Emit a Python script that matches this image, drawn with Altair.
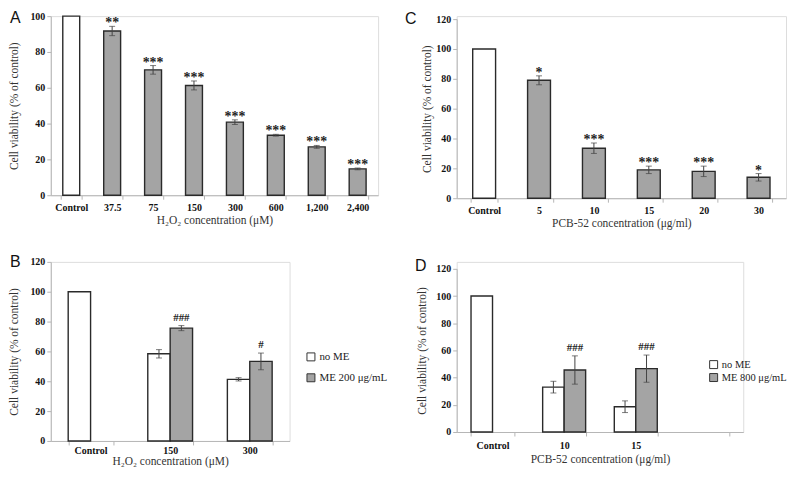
import altair as alt
import pandas as pd

SERIF = "Liberation Serif"
SANS = "Liberation Sans"
GRAY = "#a4a4a4"
WHITE = "#ffffff"

# ---------------- data ----------------
panel_letters = ["A", "B", "C", "D"]
y_title = "Cell viability (% of control)"

# Panel A
a_cats = ["Control", "37.5", "75", "150", "300", "600", "1,200", "2,400"]
a_vals = [100, 91.7, 70.0, 61.3, 40.8, 33.5, 27.0, 14.7]
a_errs = [0, 2.6, 2.4, 2.5, 1.3, 0.5, 0.8, 0.5]
a_sig = ["", "**", "***", "***", "***", "***", "***", "***"]
a_xtitle = "H₂O₂ concentration (μM)"

# Panel C
c_cats = ["Control", "5", "10", "15", "20", "30"]
c_vals = [100, 79.0, 33.5, 19.0, 18.0, 14.0]
c_errs = [0, 3.0, 3.5, 2.5, 3.5, 2.5]
c_sig = ["", "*", "***", "***", "***", "*"]
c_xtitle = "PCB-52 concentration (μg/ml)"

# Panel B
b_cats = ["Control", "150", "300"]
b_groups = ["no ME", "ME 200 μg/mL"]
b_noME = [100, 58.4, 41.3]
b_noME_err = [0, 2.8, 1.1]
b_ME = [75.6, 53.3]
b_ME_err = [1.7, 5.6]
b_sig = ["###", "#"]
b_xtitle = "H₂O₂ concentration (μM)"

# Panel D
d_cats = ["Control", "10", "15", " "]
d_groups = ["no ME", "ME 800 μg/mL"]
d_noME = [100, 33.0, 18.6]
d_noME_err = [0, 4.3, 4.3]
d_ME = [45.6, 46.6]
d_ME_err = [10.4, 10.0]
d_sig = ["###", "###"]
d_xtitle = "PCB-52 concentration (μg/ml)"


def y_axis(title_pad):
    return alt.Axis(title=y_title, grid=False, values=[0, 20, 40, 60, 80, 100, 120],
                    labelFont=SERIF, labelFontWeight="bold", labelFontSize=10, labelColor="#111",
                    titleFont=SERIF, titleFontWeight="normal", titleFontSize=11.5, titleColor="#333",
                    titlePadding=title_pad, domainColor="#b5b5b5", tickColor="#b5b5b5",
                    tickSize=4, labelPadding=2)


def x_axis(title, title_pad, label_pad):
    return alt.Axis(title=title, labelAngle=0, tickBand="extent", grid=False,
                    labelFont=SERIF, labelFontWeight="bold", labelFontSize=10, labelColor="#111",
                    titleFont=SERIF, titleFontWeight="normal", titleFontSize=11.5, titleColor="#333",
                    titlePadding=title_pad, labelPadding=label_pad,
                    domainColor="#b5b5b5", tickColor="#b5b5b5", tickSize=4)


def letter_layer(letter, lx, ly):
    df = pd.DataFrame({"t": [letter]})
    return alt.Chart(df).mark_text(font=SANS, fontSize=16, align="left", baseline="middle",
                                   color="#111").encode(text="t:N", x=alt.value(lx), y=alt.value(ly))


def simple_panel(cats, vals, errs, sig, letter, xtitle, ymax, width, height, rng, bar_w,
                 lx, ly, ytp, xtp, xlp):
    df = pd.DataFrame({"cat": cats, "val": vals, "err": errs, "sig": sig})
    df["lo"] = df["val"] - df["err"]
    df["hi"] = df["val"] + df["err"]
    df["fill"] = [WHITE] + [GRAY] * (len(cats) - 1)
    xs = alt.Scale(domain=cats, paddingInner=0.5, paddingOuter=0.25)
    ys = alt.Scale(domain=[0, ymax], range=rng, nice=False)
    X = alt.X("cat:N", sort=cats, scale=xs, axis=x_axis(xtitle, xtp, xlp))
    ya = y_axis(ytp)
    base = alt.Chart(df)
    bars = base.mark_bar(width=bar_w, stroke="#2a2a2a", strokeWidth=1.4).encode(
        x=X, y=alt.Y("val:Q", scale=ys, axis=ya), fill=alt.Fill("fill:N", scale=None))
    eb = base.transform_filter("datum.err > 0")
    rule = eb.mark_rule(color="#444", strokeWidth=1).encode(
        x=X, y=alt.Y("lo:Q", scale=ys, axis=ya), y2="hi:Q")
    cap_lo = eb.mark_tick(color="#444", size=6, thickness=1).encode(
        x=X, y=alt.Y("lo:Q", scale=ys, axis=ya))
    cap_hi = eb.mark_tick(color="#444", size=6, thickness=1).encode(
        x=X, y=alt.Y("hi:Q", scale=ys, axis=ya))
    stars = base.transform_filter("datum.sig != ''").mark_text(
        font=SERIF, fontWeight="bold", fontSize=14, dy=-3,
        baseline="middle", color="#222").encode(
        x=X, y=alt.Y("hi:Q", scale=ys, axis=ya), text="sig:N")
    return alt.layer(bars, rule, cap_lo, cap_hi, stars, letter_layer(letter, lx, ly)).properties(
        width=width, height=height)


def grouped_panel(cats, groups, no_vals, no_errs, me_vals, me_errs, sig, letter, xtitle,
                  width, height, rng, pin, lx, ly, ytp, xtp, xlp, legx, legy, rowpad, legfs):
    rows = []
    for c, v, e in zip(cats, no_vals, no_errs):
        rows.append({"cat": c, "grp": groups[0], "val": v, "err": e, "sig": ""})
    for c, v, e, s in zip(cats[1:], me_vals, me_errs, sig):
        rows.append({"cat": c, "grp": groups[1], "val": v, "err": e, "sig": s})
    df = pd.DataFrame(rows)
    df["lo"] = df["val"] - df["err"]
    df["hi"] = df["val"] + df["err"]
    xs = alt.Scale(domain=cats, paddingInner=pin, paddingOuter=pin / 2)
    ys = alt.Scale(domain=[0, 120], range=rng, nice=False)
    X = alt.X("cat:N", sort=cats, scale=xs, axis=x_axis(xtitle, xtp, xlp))
    XO = alt.XOffset("grp:N", sort=groups, scale=alt.Scale(domain=groups, paddingInner=0, paddingOuter=0))
    ya = y_axis(ytp)
    base = alt.Chart(df)
    bars = base.mark_bar(stroke="#2a2a2a", strokeWidth=1.4).encode(
        x=X, xOffset=XO, y=alt.Y("val:Q", scale=ys, axis=ya),
        fill=alt.Fill("grp:N", sort=groups,
                      scale=alt.Scale(domain=groups, range=[WHITE, GRAY]),
                      legend=alt.Legend(title=None, orient="none", legendX=legx, legendY=legy,
                                        symbolType="square", symbolSize=64,
                                        symbolStrokeColor="#333", symbolStrokeWidth=1,
                                        labelFont=SERIF, labelFontSize=legfs, labelColor="#222",
                                        rowPadding=rowpad, labelOffset=3, padding=0)))
    eb = base.transform_filter("datum.err > 0")
    rule = eb.mark_rule(color="#444", strokeWidth=1).encode(
        x=X, xOffset=XO, y=alt.Y("lo:Q", scale=ys, axis=ya), y2="hi:Q")
    cap_lo = eb.mark_tick(color="#444", size=6, thickness=1).encode(
        x=X, xOffset=XO, y=alt.Y("lo:Q", scale=ys, axis=ya))
    cap_hi = eb.mark_tick(color="#444", size=6, thickness=1).encode(
        x=X, xOffset=XO, y=alt.Y("hi:Q", scale=ys, axis=ya))
    marks = base.transform_filter("datum.sig != ''").mark_text(
        font=SERIF, fontWeight="bold", fontSize=11, dy=-8,
        baseline="middle", color="#222").encode(
        x=X, xOffset=XO, y=alt.Y("hi:Q", scale=ys, axis=ya), text="sig:N")
    return alt.layer(bars, rule, cap_lo, cap_hi, marks, letter_layer(letter, lx, ly)).properties(
        width=width, height=height)


pA = simple_panel(a_cats, a_vals, a_errs, a_sig, panel_letters[0], a_xtitle, 100,
                  329, 180, [180, 0], 17, -41, 2, 10.5, 2.5, 3)
pC = simple_panel(c_cats, c_vals, c_errs, c_sig, panel_letters[2], c_xtitle, 120,
                  331, 183, [183, 3], 23, -52, 3, 3.5, 2, 3)
pB = grouped_panel(b_cats, b_groups, b_noME, b_noME_err, b_ME, b_ME_err, b_sig,
                   panel_letters[1], b_xtitle, 240, 180, [180, 0], 0.4375,
                   -41, 0, 10.5, 0, 1, 256, 90, 8, 11)
pD = grouped_panel(d_cats, d_groups, d_noME, d_noME_err, d_ME, d_ME_err, d_sig,
                   panel_letters[3], d_xtitle, 288, 171, [171, 7], 0.4,
                   -42, 4, 8.5, 2.5, 5, 253, 98, 0, 10.5)

chart = alt.concat(pA, pC, pB, pD, columns=2, spacing={"row": 64, "column": 79},
                   bounds="flush", align="each").resolve_scale(
    fill="independent", x="independent", y="independent", xOffset="independent"
).properties(
    padding={"left": 0, "top": 0, "right": 0, "bottom": 0}
).configure_view(stroke=None).configure(background="white")

chart.save("out.html", embed_options={"renderer": "svg", "actions": False})
